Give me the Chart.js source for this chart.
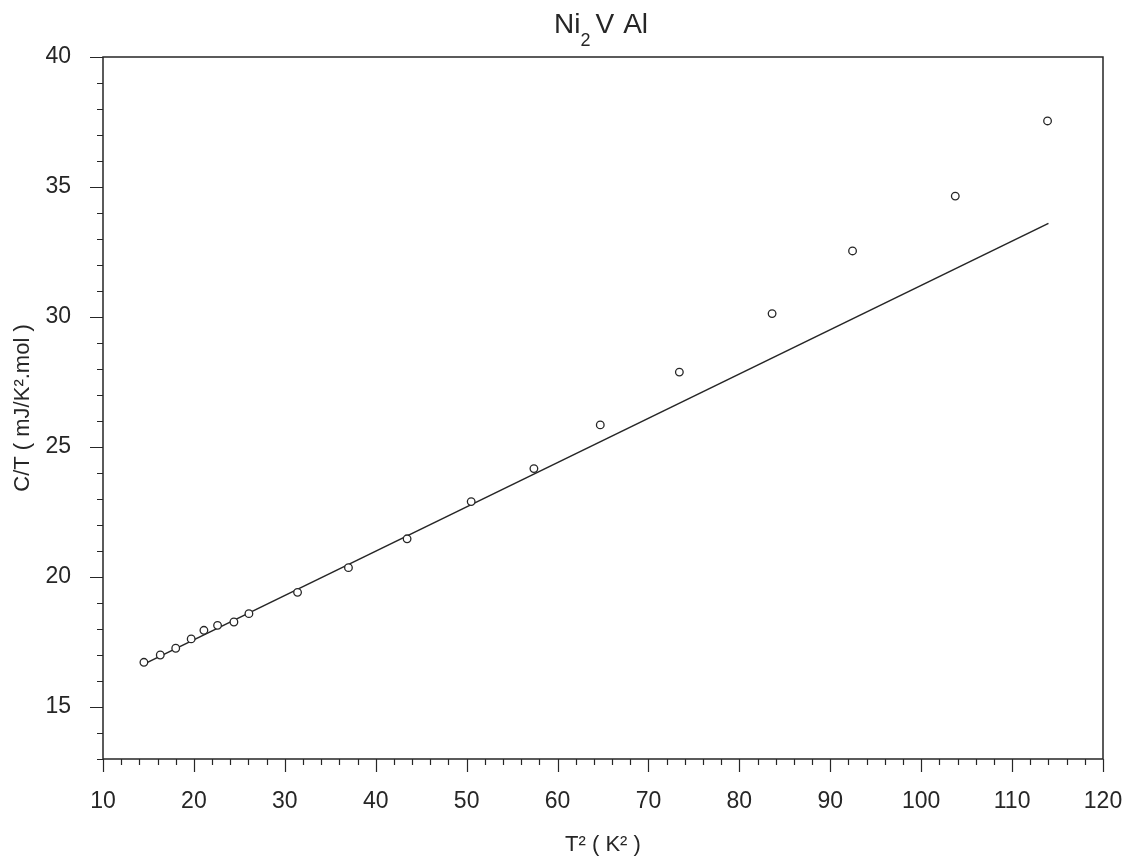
<!DOCTYPE html>
<html lang="en">
<head>
    <meta charset="UTF-8">
    <title>Ni2 V Al - C/T vs T^2</title>
    <script src="https://cdn.jsdelivr.net/npm/chart.js"></script>
    <style>
        html, body { margin: 0; padding: 0; background: #fff; }
        #wrap { width: 1131px; height: 863px; }
    </style>
</head>
<body>
    <div id="wrap"><canvas id="heatChart" width="1131" height="863"></canvas></div>

    <script>
        // measured points: T^2 (K^2) and C/T (mJ/K^2.mol)
        const t2 = [14.5, 16.3, 18.0, 19.7, 21.1, 22.6, 24.4, 26.05, 31.4, 37.0, 43.45, 50.5, 57.4, 64.7, 73.4, 83.6, 92.45, 103.75, 113.9];
        const ct = [16.72, 17.0, 17.26, 17.62, 17.95, 18.14, 18.27, 18.59, 19.41, 20.36, 21.47, 22.9, 24.17, 25.85, 27.88, 30.13, 32.54, 34.65, 37.54];

        // fitted straight line (ends)
        const fitT2 = [14.5, 114.0];
        const fitCT = [16.65, 33.6];

        // axis labels
        const xTicks = [10, 20, 30, 40, 50, 60, 70, 80, 90, 100, 110, 120];
        const yTicks = [15, 20, 25, 30, 35, 40];
        const xMinorStep = 2;
        const yMinorStep = 1;

        const ink = '#262626';
        const fontFamily = "'Liberation Sans', Arial, sans-serif";

        // frame, tick marks and title
        const decor = {
            id: 'decor',
            afterDraw(chart) {
                const { ctx, chartArea: a, scales: { x, y } } = chart;
                ctx.save();
                ctx.strokeStyle = ink;
                ctx.lineWidth = 1.5;
                ctx.beginPath();
                ctx.moveTo(a.left, a.bottom);
                ctx.lineTo(a.left, a.top);
                ctx.lineTo(a.right, a.top);
                ctx.lineTo(a.right, a.bottom);
                ctx.lineTo(a.left, a.bottom);
                ctx.stroke();

                ctx.lineWidth = 1.2;
                ctx.beginPath();
                for (let v = x.min; v <= x.max + 1e-6; v += xMinorStep) {
                    const px = Math.round(x.getPixelForValue(v)) + 0.5;
                    const len = xTicks.includes(v) ? 13 : 6;
                    ctx.moveTo(px, a.bottom);
                    ctx.lineTo(px, a.bottom + len);
                }
                for (let v = y.min; v <= y.max + 1e-6; v += yMinorStep) {
                    const py = Math.round(y.getPixelForValue(v)) + 0.5;
                    const len = yTicks.includes(v) ? 13 : 6;
                    ctx.moveTo(a.left, py);
                    ctx.lineTo(a.left - len, py);
                }
                ctx.stroke();

                // title "Ni2 V Al" with a subscript 2
                const big = '28px ' + fontFamily;
                const small = '18px ' + fontFamily;
                const base = 33;
                let tx = 554;
                ctx.fillStyle = ink;
                ctx.textBaseline = 'alphabetic';
                ctx.font = big;
                ctx.fillText('Ni', tx, base);
                tx += ctx.measureText('Ni').width;
                ctx.font = small;
                ctx.fillText('2', tx, base + 13);
                tx += ctx.measureText('2').width + 5;
                ctx.font = big;
                ctx.fillText('V', tx, base);
                tx += ctx.measureText('V').width + 9;
                ctx.fillText('Al', tx, base);
                ctx.restore();
            }
        };

        const ctx = document.getElementById('heatChart').getContext('2d');
        const heatChart = new Chart(ctx, {
            type: 'scatter',
            data: {
                datasets: [
                    {
                        label: 'data',
                        data: t2.map((v, i) => ({ x: v, y: ct[i] })),
                        pointStyle: 'circle',
                        pointRadius: 3.8,
                        pointBorderWidth: 1.3,
                        pointBorderColor: ink,
                        pointBackgroundColor: '#fff',
                        showLine: false
                    },
                    {
                        label: 'fit',
                        data: fitT2.map((v, i) => ({ x: v, y: fitCT[i] })),
                        showLine: true,
                        borderColor: ink,
                        borderWidth: 1.6,
                        pointRadius: 0,
                        fill: false
                    }
                ]
            },
            options: {
                responsive: false,
                animation: false,
                layout: { padding: { top: 57, right: 28, left: 0, bottom: 0 } },
                plugins: {
                    legend: { display: false },
                    tooltip: { enabled: false }
                },
                scales: {
                    x: {
                        type: 'linear',
                        min: 10,
                        max: 120,
                        afterBuildTicks: s => { s.ticks = xTicks.map(v => ({ value: v })); },
                        afterFit: s => {
                            s.height = 104;
                            s.paddingLeft = 0;
                            s.paddingRight = 0;
                        },
                        grid: { display: false },
                        border: { display: false },
                        ticks: {
                            padding: 21,
                            color: ink,
                            font: { family: fontFamily, size: 23 },
                            maxRotation: 0
                        },
                        title: {
                            display: true,
                            text: 'T² ( K² )',
                            color: ink,
                            font: { family: fontFamily, size: 22 },
                            padding: { top: 0, bottom: 5 }
                        }
                    },
                    y: {
                        type: 'linear',
                        min: 13,
                        max: 40,
                        afterBuildTicks: s => { s.ticks = yTicks.map(v => ({ value: v })); },
                        afterFit: s => {
                            s.width = 103;
                            s.paddingTop = 0;
                            s.paddingBottom = 0;
                        },
                        grid: { display: false },
                        border: { display: false },
                        ticks: {
                            padding: 24,
                            color: ink,
                            font: { family: fontFamily, size: 23 }
                        },
                        title: {
                            display: true,
                            text: 'C/T ( mJ/K².mol )',
                            color: ink,
                            font: { family: fontFamily, size: 22 },
                            padding: { top: 10, bottom: 0 }
                        }
                    }
                }
            },
            plugins: [decor]
        });
    </script>
</body>
</html>
